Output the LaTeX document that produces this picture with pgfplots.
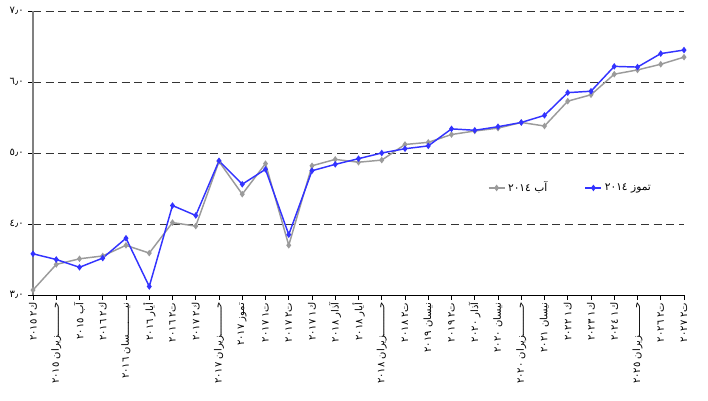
\documentclass[border=0pt]{standalone}
\usepackage{fontspec}
\usepackage{pgfplots}
\pgfplotsset{compat=1.18}
\TeXXeTstate=1
\newfontfamily\arabicfont[Script=Arabic]{DejaVu Sans}
\definecolor{serblue}{RGB}{51,51,255}
\definecolor{sergray}{RGB}{155,155,155}
\definecolor{axgray}{RGB}{128,128,128}
\begin{document}
\begin{tikzpicture}
\begin{axis}[
  scale only axis,
  width=488.25pt, height=213pt,
  xmin=0, xmax=28, ymin=3, ymax=7,
  axis x line=bottom, axis y line=left,
  x axis line style={-, black, line width=0.7pt},
  y axis line style={-, axgray, line width=1.5pt},
  xtick={0,...,28},
  xticklabels={
    {\beginR ك٢ ٢٠١٥\endR},
    {\beginR حـــــــــزيران ٢٠١٥\endR},
    {\beginR آب ٢٠١٥\endR},
    {\beginR ك٢ ٢٠١٦\endR},
    {\beginR نيـــــــــسان ٢٠١٦\endR},
    {\beginR أيار ٢٠١٦\endR},
    {\beginR ت٢ ٢٠١٦\endR},
    {\beginR ك٢ ٢٠١٧\endR},
    {\beginR حـــــــــزيران ٢٠١٧\endR},
    {\beginR تموز ٢٠١٧\endR},
    {\beginR ت١ ٢٠١٧\endR},
    {\beginR ت٢ ٢٠١٧\endR},
    {\beginR ك١ ٢٠١٧\endR},
    {\beginR آذار ٢٠١٨\endR},
    {\beginR أيار ٢٠١٨\endR},
    {\beginR حـــــــــزيران ٢٠١٨\endR},
    {\beginR ت٢ ٢٠١٨\endR},
    {\beginR نيسان ٢٠١٩\endR},
    {\beginR ت٢ ٢٠١٩\endR},
    {\beginR آذار ٢٠٢٠\endR},
    {\beginR نيسان ٢٠٢٠\endR},
    {\beginR حـــــــــزيران ٢٠٢٠\endR},
    {\beginR نيسان ٢٠٢١\endR},
    {\beginR ك١ ٢٠٢٢\endR},
    {\beginR ك١ ٢٠٢٣\endR},
    {\beginR ك١ ٢٠٢٤\endR},
    {\beginR حـــــــــزيران ٢٠٢٥\endR},
    {\beginR ت٢ ٢٠٢٦\endR},
    {\beginR ت٢ ٢٠٢٧\endR}},
  xticklabel style={font=\arabicfont\fontsize{7.5}{8}\selectfont, rotate=90, anchor=east, inner sep=2pt},
  ytick={3,4,5,6,7},
  yticklabels={٣٫٠,٤٫٠,٥٫٠,٦٫٠,٧٫٠},
  yticklabel style={font=\arabicfont\fontsize{7.5}{8}\selectfont},
  tick align=outside,
  major tick length=3.5pt,
  tick style={black, line width=0.6pt},
  ymajorgrids=true,
  grid style={black!80, line width=0.6pt, dash pattern=on 6pt off 3.5pt},
  legend style={at={(0.826,0.377)}, anchor=center, draw=none, fill=none,
    font=\arabicfont\fontsize{8}{9}\selectfont, legend columns=2,
    /tikz/every even column/.append style={column sep=26pt}},
  legend image code/.code={
    \draw[mark repeat=2,mark phase=2] plot coordinates {(0pt,0pt) (6pt,0pt) (12pt,0pt)};},
  clip=false,
]
\addplot[sergray, line width=1.1pt, mark=diamond*, mark size=1.6pt] coordinates {
(0,3.07) (1,3.43) (2,3.51) (3,3.55) (4,3.70) (5,3.59) (6,4.02) (7,3.97)
(8,4.88) (9,4.42) (10,4.85) (11,3.70) (12,4.82) (13,4.91) (14,4.87) (15,4.90)
(16,5.12) (17,5.15) (18,5.26) (19,5.31) (20,5.35) (21,5.43) (22,5.38) (23,5.73)
(24,5.82) (25,6.11) (26,6.17) (27,6.25) (28,6.35)};
\addlegendentry{\beginR آب ٢٠١٤\endR}
\addplot[serblue, line width=1.1pt, mark=diamond*, mark size=1.6pt] coordinates {
(0,3.58) (1,3.50) (2,3.39) (3,3.52) (4,3.80) (5,3.12) (6,4.26) (7,4.12)
(8,4.89) (9,4.56) (10,4.77) (11,3.85) (12,4.75) (13,4.84) (14,4.92) (15,5.00)
(16,5.06) (17,5.10) (18,5.34) (19,5.32) (20,5.37) (21,5.43) (22,5.53) (23,5.85)
(24,5.87) (25,6.22) (26,6.21) (27,6.40) (28,6.45)};
\addlegendentry{\beginR تموز ٢٠١٤\endR}
\end{axis}
\pgfresetboundingbox
\path[use as bounding box] ([xshift=-24.75pt,yshift=-79.5pt]current axis.south west) rectangle ([xshift=18pt,yshift=8.25pt]current axis.north east);
\end{tikzpicture}
\end{document}
